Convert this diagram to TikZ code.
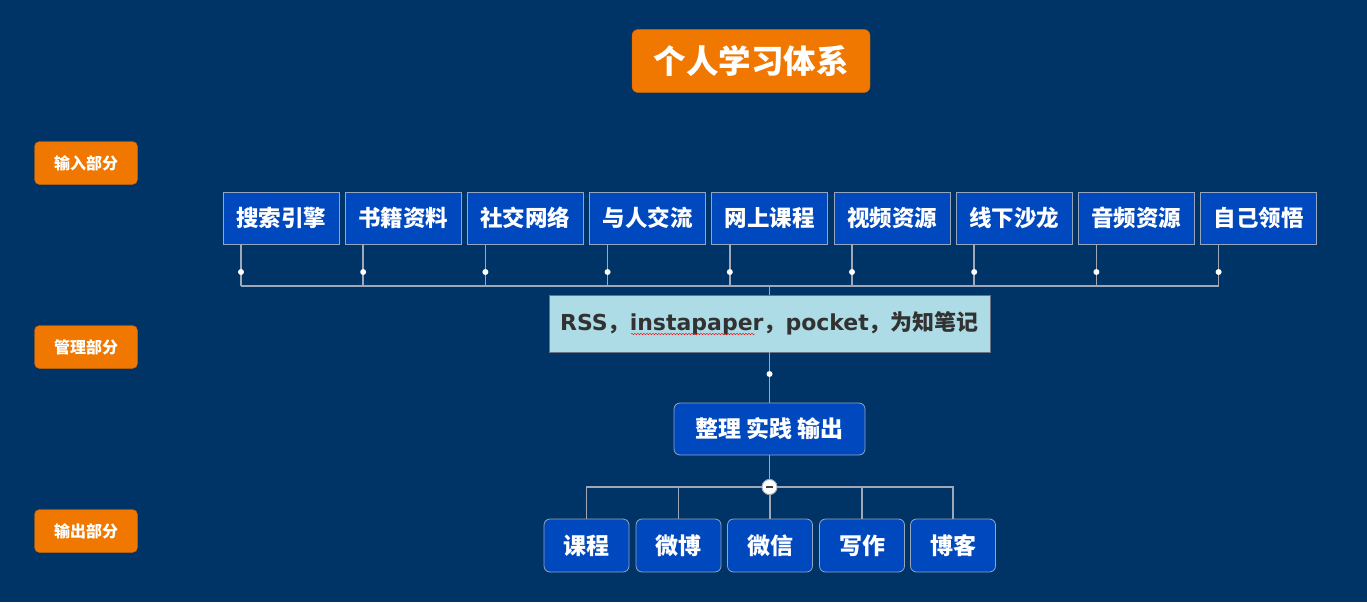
\documentclass[tikz,border=0pt]{standalone}
\usepackage{fontspec}
\setmainfont{Noto Sans CJK SC}
\newfontfamily\latinfont{DejaVu Sans}
\usetikzlibrary{decorations.pathmorphing}
\definecolor{bgnavy}{RGB}{0,51,102}
\definecolor{partorange}{RGB}{240,120,0}
\definecolor{boxblue}{RGB}{0,72,190}
\definecolor{boxline}{RGB}{150,165,190}
\definecolor{toolblue}{RGB}{173,220,230}
\definecolor{linkgray}{RGB}{160,168,184}
\begin{document}
\begin{tikzpicture}[x=1pt,y=-1pt,
part/.style={rectangle, rounded corners=5pt, draw=partorange!85!black, fill=partorange, text=white, align=center, minimum width=103pt, minimum height=43pt, font=\fontsize{16}{16}\selectfont\bfseries},
source/.style={rectangle, draw=boxline, thick, fill=boxblue, text=white, align=center, minimum width=116pt, minimum height=52pt, font=\fontsize{22.5}{22.5}\selectfont\bfseries},
result/.style={rectangle, rounded corners=6pt, draw=boxline, thick, fill=boxblue, text=white, align=center, minimum width=85pt, minimum height=53pt, font=\fontsize{23}{23}\selectfont\bfseries},
dot/.style={circle, fill=white, inner sep=0pt, minimum size=6pt},
link/.style={draw=linkgray, line width=1.5pt}]

\fill[bgnavy] (0,0) rectangle (1367,602);

% title
\draw (751,61) node[rectangle, rounded corners=6pt, draw=partorange!85!black, fill=partorange, text=white, minimum width=238pt, minimum height=63pt, font=\fontsize{32.5}{32.5}\selectfont\bfseries] (T) {个人学习体系};

% parts
\draw (86,163) node[part] (P1) {输入部分};
\draw (86,347) node[part] (P2) {管理部分};
\draw (86,531) node[part] (P3) {输出部分};

% input sources
\draw (281,218) node[source] (S1) {搜索引擎};
\draw (403.2,218) node[source] (S2) {书籍资料};
\draw (525.4,218) node[source] (S3) {社交网络};
\draw (647.6,218) node[source] (S4) {与人交流};
\draw (769.8,218) node[source] (S5) {网上课程};
\draw (892,218) node[source] (S6) {视频资源};
\draw (1014.2,218) node[source] (S7) {线下沙龙};
\draw (1136.4,218) node[source] (S8) {音频资源};
\draw (1258.6,218) node[source] (S9) {自己领悟};

% tools
\draw (769.5,323.5) node[rectangle, draw=boxline!70!black, thick, fill=toolblue, text={rgb,255:red,50;green,50;blue,50}, minimum width=441pt, minimum height=57pt, font=\fontsize{22}{22}\selectfont\bfseries] (RSS) {{\latinfont RSS}，{\latinfont instapaper}，{\latinfont pocket}，为知笔记};
\draw[red, decorate, decoration={snake, amplitude=0.8pt, segment length=3pt}] (631,334) -- (755,334);

\draw (769.5,429) node[result, minimum width=191pt, minimum height=52pt] (ZL) {整理 实践 输出};

% outputs
\draw (586.5,545.5) node[result] (O1) {课程};
\draw (678.5,545.5) node[result] (O2) {微博};
\draw (770,545.5) node[result] (O3) {微信};
\draw (862,545.5) node[result] (O4) {写作};
\draw (953,545.5) node[result] (O5) {博客};

% connectors
\coordinate (bus) at (769.5,286);
\foreach \i/\x in {1/241,2/363.2,3/485.4,4/607.6,5/729.8,6/852,7/974.2,8/1096.4,9/1218.6}{
  \draw[link] (\x,0 |- S\i.south) -- (\x,286);
  \node[dot] (d\i) at (\x,272) {};
}
\draw[link] (241,286) -- (1218.6,286);
\draw[link] (bus) -- (RSS.north);
\draw[link] (RSS.south) -- (ZL.north);
\node[dot] (dm) at (769.5,374) {};

\node[circle, draw=linkgray, thick, fill=white, inner sep=0pt, minimum size=15pt] (minus) at (769.5,487) {};
\draw[link] (ZL.south) -- (minus.north);
\foreach \i in {1,...,5}{
  \draw[link] (O\i.north) |- (minus);
}
\node[circle, draw=linkgray, thick, fill=white, inner sep=0pt, minimum size=15pt] at (minus) {};
\draw[line width=2pt, black!75] ([xshift=-3.5pt]minus.center) -- ([xshift=3.5pt]minus.center);
\end{tikzpicture}
\end{document}
